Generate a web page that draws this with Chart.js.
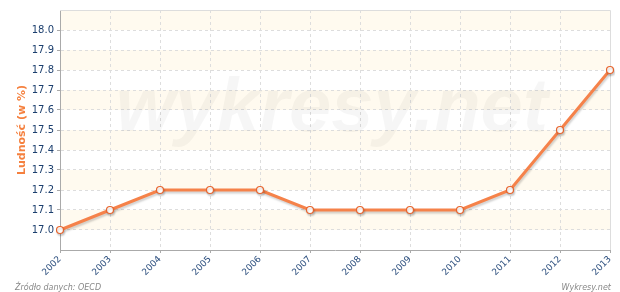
<!DOCTYPE html>
<html lang="pl">
<head>
<meta charset="UTF-8" />
<title>Ludność (w %)</title>
<script src="https://cdn.jsdelivr.net/npm/chart.js"></script>
<style>
  html, body { margin: 0; padding: 0; background: #fff; }
  .box { position: relative; width: 620px; height: 292px; }
</style>
</head>
<body>
<div class="box"><canvas id="wykres"></canvas></div>
<script>
  var lata = ["2002", "2003", "2004", "2005", "2006", "2007", "2008", "2009", "2010", "2011", "2012", "2013"];
  var ludnosc = [17.0, 17.1, 17.2, 17.2, 17.2, 17.1, 17.1, 17.1, 17.1, 17.2, 17.5, 17.8];
  var yTicks = [16.9, 17.0, 17.1, 17.2, 17.3, 17.4, 17.5, 17.6, 17.7, 17.8, 17.9, 18.0, 18.1];

  var kolorLinii = "#f5824a";
  var kolorTekstu = "#1c3f6e";

  // paski w tle, znak wodny, ramka i podpisy
  var tlo = {
    id: "tlo",
    beforeDraw: function (chart) {
      var ctx = chart.ctx;
      var a = chart.chartArea;
      var y = chart.scales.y;
      ctx.save();
      ctx.fillStyle = "#fffaef";
      for (var i = 0; i < yTicks.length - 1; i++) {
        if ((yTicks.length - 2 - i) % 2 == 0) {
          var y1 = y.getPixelForValue(yTicks[i + 1]);
          var y2 = y.getPixelForValue(yTicks[i]);
          ctx.fillRect(a.left, y1, a.right - a.left, y2 - y1);
        }
      }
      ctx.restore();
    },
    beforeDatasetsDraw: function (chart) {
      var ctx = chart.ctx;
      var a = chart.chartArea;
      ctx.save();
      ctx.font = "italic bold 76px 'Liberation Sans'";
      ctx.fillStyle = "rgba(0,0,0,0.035)";
      ctx.textAlign = "center";
      ctx.textBaseline = "alphabetic";
      ctx.fillText("wykresy.net", 332, 131);
      // górna i prawa ramka
      ctx.strokeStyle = "#dddddd";
      ctx.lineWidth = 1;
      ctx.beginPath();
      ctx.moveTo(a.left, a.top + 0.5);
      ctx.lineTo(a.right + 0.5, a.top + 0.5);
      ctx.lineTo(a.right + 0.5, a.bottom);
      ctx.stroke();
      ctx.restore();
    },
    beforeDatasetDraw: function (chart) {
      var ctx = chart.ctx;
      ctx.save();
      ctx.shadowColor = "rgba(0,0,0,0.18)";
      ctx.shadowBlur = 2;
      ctx.shadowOffsetX = 1;
      ctx.shadowOffsetY = 2;
    },
    afterDatasetDraw: function (chart) {
      chart.ctx.restore();
    },
    afterDraw: function (chart) {
      var ctx = chart.ctx;
      ctx.save();
      ctx.font = "italic 8px 'DejaVu Sans'";
      ctx.fillStyle = "#888888";
      ctx.textBaseline = "alphabetic";
      ctx.textAlign = "left";
      ctx.fillText("Źródło danych: OECD", 15, 290);
      ctx.textAlign = "right";
      ctx.fillText("Wykresy.net", 611, 290);
      ctx.restore();
    }
  };

  new Chart(document.getElementById("wykres"), {
    type: "line",
    data: {
      labels: lata,
      datasets: [
        {
          label: "Ludność (w %)",
          data: ludnosc,
          borderColor: kolorLinii,
          borderWidth: 3,
          tension: 0,
          pointRadius: 3.5,
          pointBorderWidth: 1.2,
          pointBackgroundColor: "#ffffff",
          pointBorderColor: "#e8632b",
          fill: false
        }
      ]
    },
    options: {
      responsive: true,
      maintainAspectRatio: false,
      animation: false,
      layout: { padding: { top: 10, right: 10, bottom: 0, left: 0 } },
      plugins: {
        legend: { display: false },
        tooltip: { enabled: false }
      },
      scales: {
        x: {
          offset: false,
          grid: {
            color: function (c) { return c.index == 0 || c.index == lata.length - 1 ? "transparent" : "#dddddd"; },
            tickColor: "#aaaaaa",
            tickLength: 3,
            tickBorderDash: []
          },
          border: { display: true, color: "#aaaaaa", width: 1, dash: [3, 3] },
          ticks: {
            color: "#2a4d7d",
            font: { family: "DejaVu Sans", size: 9 },
            minRotation: 45,
            maxRotation: 45,
            padding: 1,
            autoSkip: false
          },
          afterFit: function (s) { s.height = 42; }
        },
        y: {
          min: 16.9,
          max: 18.1,
          afterBuildTicks: function (s) {
            s.ticks = yTicks.map(function (v) { return { value: v }; });
          },
          grid: {
            color: function (c) {
              var v = c.tick ? c.tick.value : 0;
              return v < 16.95 || v > 18.05 ? "transparent" : "#dddddd";
            },
            tickColor: function (c) {
              var v = c.tick ? c.tick.value : 0;
              return v < 16.95 || v > 18.05 ? "transparent" : "#aaaaaa";
            },
            tickLength: 3,
            tickBorderDash: []
          },
          border: { display: true, color: "#aaaaaa", width: 1, dash: [3, 3] },
          ticks: {
            color: kolorTekstu,
            font: { family: "DejaVu Sans", size: 10 },
            padding: 3,
            callback: function (v) {
              return v < 16.95 || v > 18.05 ? "" : Number(v).toFixed(1);
            }
          },
          title: {
            display: true,
            text: "Ludność (w %)",
            color: "#f5803e",
            font: { family: "DejaVu Sans", size: 11, weight: "bold" },
            padding: { top: 16, bottom: 0 }
          },
          afterFit: function (s) { s.width = 60; }
        }
      }
    },
    plugins: [tlo]
  });
</script>
</body>
</html>
